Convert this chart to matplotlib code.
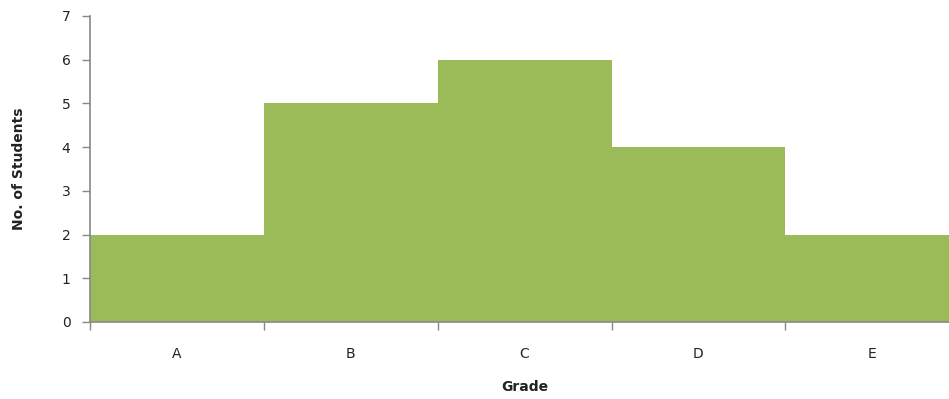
import matplotlib.pyplot as plt
import numpy as np

grades = ['A', 'B', 'C', 'D', 'E']
students = [2, 5, 6, 4, 2]

fig = plt.figure(figsize=(9.49, 3.99), dpi=100)
ax = fig.add_axes([0.0948, 0.193, 0.916, 0.767])

x = np.arange(len(grades))
ax.bar(x, students, width=1.0, align='edge', color='#9BBB59', edgecolor='none')

ax.set_xlim(0, len(grades))
ax.set_ylim(0, 7)
ax.set_yticks(range(0, 8))

# boundaries get the tick marks, centres get the labels
ax.set_xticks(np.arange(len(grades) + 1))
ax.set_xticklabels([])
ax.set_xticks(x + 0.5, minor=True)
ax.set_xticklabels(grades, minor=True)
ax.tick_params(axis='x', which='minor', length=0, pad=18, labelsize=10, labelcolor='#222222')
ax.tick_params(axis='x', which='major', direction='out', length=6, color='#888888', width=1)
ax.tick_params(axis='y', direction='out', length=6, color='#888888', width=1,
               pad=8, labelsize=10, labelcolor='#222222')

for side in ['top', 'right']:
    ax.spines[side].set_visible(False)
for side in ['left', 'bottom']:
    ax.spines[side].set_color('#888888')
    ax.spines[side].set_linewidth(1.2)

ax.set_xlabel('Grade', fontsize=10, fontweight='bold', labelpad=14, color='#222222')
ax.set_ylabel('No. of Students', fontsize=10, fontweight='bold', labelpad=26, color='#222222')

fig.savefig('out.png', dpi=100)
